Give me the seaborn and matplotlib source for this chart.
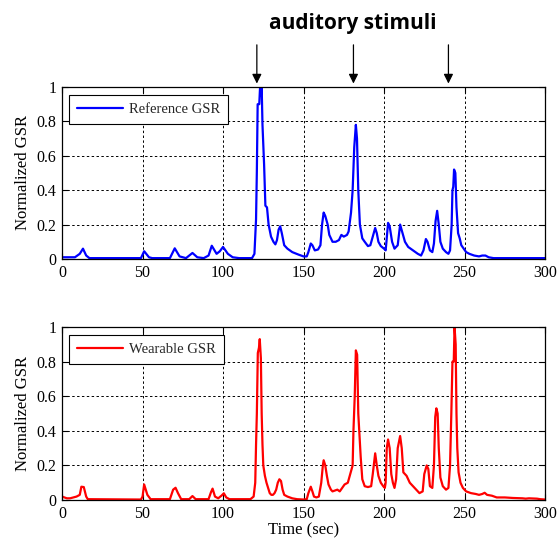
import numpy as np
import pandas as pd
import matplotlib
matplotlib.use("Agg")
import matplotlib.pyplot as plt
import seaborn as sns


# ---------------- DATA ----------------
ref_t = [0, 8, 11, 13, 15, 17, 49, 51, 54, 56, 67, 70, 73, 77, 81, 84, 88, 91, 93,
         96, 98, 100, 103, 106, 110, 118, 119.5, 120.5, 121, 121.5, 122.5, 123, 123.5,
         124, 124.5, 125.5, 126.3, 127.3, 128.3, 129.8, 131.3, 132.5, 133.5, 134.5,
         135.5, 136.5, 138, 140, 143, 147, 150, 152, 153, 154.5, 155.5, 157, 159,
         160.5, 161.5, 162.5, 163.5, 165, 166, 168, 170, 172, 173.5, 175, 177, 178,
         179.5, 180.5, 181.5, 182.5, 183.2, 184, 185, 186.5, 188, 190, 191.5, 193,
         194.5, 195.5, 196.5, 198, 200, 201, 201.5, 202.5, 203.5, 205, 206.5, 208.5,
         210, 211.5, 213, 215, 218, 221, 223, 224.5, 226, 227, 228.5, 230, 231, 232,
         233, 234, 235, 236.5, 238.5, 240, 241, 242, 242.5, 243, 243.5, 244.3, 245,
         246, 247, 248, 249.5, 251, 253, 256, 259, 261, 263, 265, 268, 300]
ref_v = [0.01, 0.01, 0.03, 0.06, 0.02, 0.005, 0.005, 0.045, 0.01, 0.005, 0.005, 0.062,
         0.015, 0.005, 0.035, 0.01, 0.005, 0.02, 0.077, 0.03, 0.045, 0.07, 0.03, 0.01,
         0.005, 0.005, 0.03, 0.23, 0.51, 0.9, 0.9, 1.0, 0.95, 1.0, 0.78, 0.55, 0.31,
         0.3, 0.2, 0.13, 0.1, 0.085, 0.11, 0.17, 0.19, 0.15, 0.08, 0.06, 0.04, 0.025,
         0.015, 0.015, 0.04, 0.09, 0.08, 0.05, 0.055, 0.08, 0.2, 0.27, 0.25, 0.2, 0.14,
         0.1, 0.1, 0.11, 0.14, 0.13, 0.14, 0.16, 0.27, 0.4, 0.65, 0.78, 0.7, 0.4, 0.2,
         0.12, 0.1, 0.075, 0.08, 0.13, 0.18, 0.15, 0.1, 0.075, 0.06, 0.05, 0.1, 0.21,
         0.19, 0.1, 0.06, 0.08, 0.2, 0.15, 0.1, 0.07, 0.05, 0.03, 0.02, 0.05, 0.116,
         0.1, 0.05, 0.04, 0.09, 0.22, 0.28, 0.2, 0.1, 0.06, 0.04, 0.03, 0.05, 0.2, 0.4,
         0.42, 0.52, 0.5, 0.3, 0.15, 0.12, 0.08, 0.06, 0.04, 0.03, 0.02, 0.015, 0.02,
         0.02, 0.01, 0.005, 0.005]

wear_t = [0, 3, 5, 7, 9, 11, 12, 13.5, 15, 16, 49, 50, 51, 52, 53, 55, 67, 69, 70.5,
          72, 74, 79, 81, 83, 91, 92.5, 93.5, 95, 97, 99, 100.5, 102, 104, 117, 119,
          120, 120.5, 121, 121.6, 122.3, 122.8, 123.5, 124, 124.5, 125, 126, 127, 128,
          129, 130, 131, 132, 133, 134, 135, 136, 137, 138, 140, 143, 146, 150, 152,
          153, 154.5, 155.5, 156.5, 158, 159.5, 161, 162, 162.5, 163.5, 164.5, 165.5,
          167, 168, 169.5, 171, 172.5, 174, 175.5, 177.5, 179, 180.5, 181, 181.8, 182.5,
          183.3, 184, 184.8, 185.5, 186.5, 188, 190, 192, 193, 194.5, 195.5, 196.5, 198,
          199.5, 200.5, 201, 201.7, 202.5, 203.5, 204.5, 205.5, 206.5, 207.5, 208.5,
          210, 211, 212, 214, 216, 218, 220, 222, 224, 225, 226.5, 227.5, 228.5, 230,
          231, 231.8, 232.5, 233.3, 234, 235, 236.5, 238.5, 240, 241, 241.8, 242.5,
          243.3, 243.8, 244.5, 245, 245.5, 246.3, 247.5, 249, 251, 254, 257, 259, 261,
          262.5, 264, 267, 270, 275, 280, 286, 288, 290, 295, 297, 300]
wear_v = [0.02, 0.01, 0.01, 0.015, 0.02, 0.03, 0.077, 0.075, 0.02, 0.005, 0.003, 0.02,
          0.09, 0.06, 0.03, 0.005, 0.005, 0.06, 0.071, 0.04, 0.005, 0.005, 0.023, 0.005,
          0.005, 0.045, 0.066, 0.02, 0.01, 0.025, 0.039, 0.015, 0.005, 0.005, 0.02, 0.1,
          0.32, 0.5, 0.85, 0.88, 0.93, 0.82, 0.5, 0.32, 0.2, 0.14, 0.1, 0.07, 0.04, 0.03,
          0.03, 0.04, 0.06, 0.1, 0.12, 0.11, 0.06, 0.03, 0.02, 0.01, 0.005, 0.003, 0.005,
          0.04, 0.077, 0.05, 0.02, 0.015, 0.02, 0.1, 0.2, 0.23, 0.2, 0.14, 0.09, 0.06,
          0.05, 0.055, 0.06, 0.05, 0.07, 0.09, 0.1, 0.15, 0.2, 0.4, 0.6, 0.865, 0.84, 0.5,
          0.37, 0.25, 0.12, 0.08, 0.075, 0.08, 0.15, 0.27, 0.2, 0.14, 0.1, 0.08, 0.07,
          0.1, 0.3, 0.35, 0.3, 0.15, 0.1, 0.07, 0.12, 0.3, 0.37, 0.3, 0.16, 0.14, 0.1,
          0.08, 0.06, 0.04, 0.05, 0.15, 0.2, 0.18, 0.08, 0.07, 0.2, 0.48, 0.53, 0.5, 0.3,
          0.13, 0.08, 0.06, 0.07, 0.2, 0.5, 0.8, 0.8, 1.0, 0.9, 0.5, 0.3, 0.16, 0.1,
          0.07, 0.05, 0.04, 0.035, 0.03, 0.035, 0.042, 0.03, 0.025, 0.015, 0.015, 0.012,
          0.01, 0.008, 0.01, 0.008, 0.005, 0.003]

stimuli_t = [121, 181, 240]
x_ticks = [0, 50, 100, 150, 200, 250, 300]
y_ticks = [0, 0.2, 0.4, 0.6, 0.8, 1]
y_ticklabels = ["0", "0.2", "0.4", "0.6", "0.8", "1"]


# ---------------- STYLE ----------------
sns.set_theme(style="white")
plt.rcParams["font.family"] = ["Liberation Serif", "DejaVu Serif"]
plt.rcParams["xtick.direction"] = "in"
plt.rcParams["ytick.direction"] = "in"


def style_axes(ax):
    ax.set_xlim(0, 300)
    ax.set_ylim(0, 1)
    ax.set_xticks(x_ticks)
    ax.set_yticks(y_ticks)
    ax.set_yticklabels(y_ticklabels)
    ax.tick_params(labelsize=11.5, colors="black", length=4, width=0.8,
                   top=True, right=True, bottom=True, left=True, pad=4)
    ax.grid(True, color="black", linestyle=(0, (2.5, 2.5)), linewidth=0.7)
    for s in ax.spines.values():
        s.set_color("black")
        s.set_linewidth(0.9)
    ax.set_ylabel("Normalized GSR", fontsize=12, color="black", labelpad=4)


def add_legend(ax):
    leg = ax.legend(loc="upper left", bbox_to_anchor=(0.014, 0.955),
                    fontsize=10.5, frameon=True, fancybox=False, framealpha=1,
                    edgecolor="black", handlelength=3.2, borderpad=0.55,
                    handletextpad=0.4, borderaxespad=0)
    leg.get_frame().set_linewidth(0.8)


# ---------------- PLOT ----------------
fig = plt.figure(figsize=(5.59, 5.40), dpi=100)
ax1 = fig.add_axes([0.111, 0.5204, 0.864, 0.3185])
ax2 = fig.add_axes([0.111, 0.074, 0.864, 0.3204])

ref_df = pd.DataFrame({"t": ref_t, "v": ref_v})
wear_df = pd.DataFrame({"t": wear_t, "v": wear_v})

sns.lineplot(data=ref_df, x="t", y="v", ax=ax1, color="#0000ff",
             linewidth=1.6, label="Reference GSR")
sns.lineplot(data=wear_df, x="t", y="v", ax=ax2, color="#ff0000",
             linewidth=1.6, label="Wearable GSR")

for ax in (ax1, ax2):
    style_axes(ax)
    add_legend(ax)

ax1.set_xlabel("")
ax2.set_xlabel("Time (sec)", fontsize=12, color="black", labelpad=0.5)

# stimulus arrows above the top panel
for t in stimuli_t:
    ax1.annotate("", xy=(t, 1.02), xytext=(t, 1.245), annotation_clip=False,
                 arrowprops=dict(arrowstyle="-|>", color="black", lw=0.9,
                                 mutation_scale=14, shrinkA=0, shrinkB=0))

ax1.text(180.5, 1.37, "auditory stimuli", ha="center", va="center",
         fontsize=15, fontweight="bold", family=["Open Sans", "DejaVu Sans"],
         color="black", clip_on=False)

fig.savefig("out.png", dpi=100)
